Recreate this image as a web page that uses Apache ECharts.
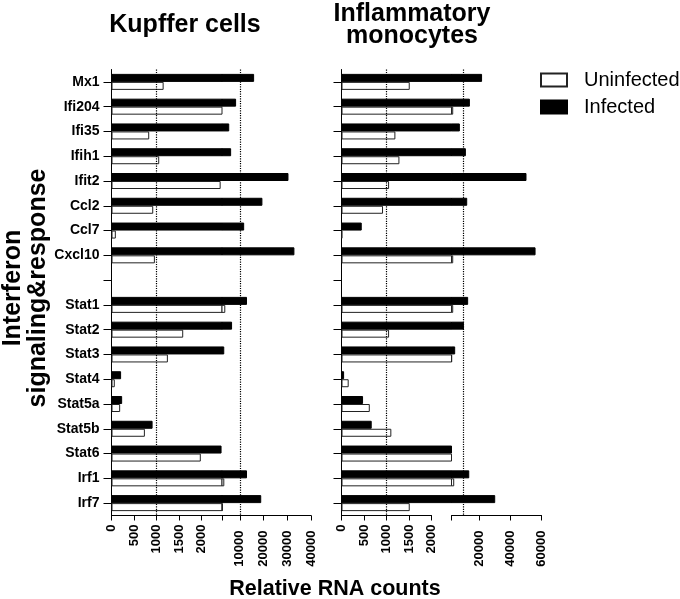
<!DOCTYPE html>
<html>
<head>
<meta charset="utf-8">
<script src="https://cdn.jsdelivr.net/npm/echarts@6/dist/echarts.min.js"></script>
<style>html,body{margin:0;padding:0;background:#fff;}#chart{width:680px;height:599px;}</style>
</head>
<body>
<div id="chart"></div>
<script>
// ---- data ----
const categories = ['Mx1','Ifi204','Ifi35','Ifih1','Ifit2','Ccl2','Ccl7','Cxcl10','','Stat1','Stat2','Stat3','Stat4','Stat5a','Stat5b','Stat6','Irf1','Irf7'];
const kupfferInfected   = [16000, 8400, 5500, 6300, 30500, 19500, 11800, 33000, '-', 13000, 6700, 3400, 213, 236, 911, 2440, 13000, 19000];
const kupfferUninfected = [1156, 2500, 836, 1058, 2420, 925, 96, 962, '-', 3840, 1590, 1250, 73, 192, 740, 1980, 3420, 2870];
const monoInfected   = [22000, 14200, 7800, 11650, 50400, 12500, 451, 56200, '-', 13100, 10400, 4800, 58, 480, 673, 2700, 13800, 30400];
const monoUninfected = [1520, 3540, 1200, 1290, 1060, 925, 15, 3540, '-', 3540, 1060, 2900, 160, 630, 1110, 2700, 4180, 1520];
const lowTicks = [0, 500, 1000, 1500, 2000];
const kupfferHighTicks = [10000, 20000, 30000, 40000];
const monoHighTicks = [20000, 40000, 60000];
const axisBreak = 2450;
const refLines = [1000, 10000];

const FONT = 'Liberation Sans, Arial, sans-serif';
const labelStyle = { fontFamily: FONT, fontWeight: 'bold', fontSize: 13, color: '#000' };
const gTop = 69.5, gHeight = 446;

function above(arr) { return arr.map(v => (v === '-' || v <= axisBreak) ? '-' : v); }

const grids = [
  { left: 111.5, width: 110.5 },   // 0 Kupffer low
  { left: 222, width: 89 },        // 1 Kupffer high
  { left: 341.5, width: 110 },     // 2 mono low (bars)
  { left: 341.5, width: 90 },      // 3 mono low (axis display)
  { left: 451.5, width: 90 }       // 4 mono high
].map(g => Object.assign(g, { top: gTop, height: gHeight, containLabel: false, outerBoundsMode: 'none' }));

function xAx(grid, min, max, ticks, labels, opts) {
  opts = opts || {};
  return {
    type: 'value', gridIndex: grid, min: min, max: max, show: opts.show !== false,
    splitLine: { show: false },
    axisLine: { show: true, onZero: false, lineStyle: { color: '#000', width: 1 } },
    axisTick: { show: true, length: 5, customValues: ticks, lineStyle: { color: '#000', width: 1 } },
    axisLabel: { show: true, rotate: 90, margin: opts.margin || 9, customValues: labels, formatter: v => String(v), ...labelStyle }
  };
}
const xAxes = [
  xAx(0, 0, axisBreak, lowTicks, lowTicks),
  xAx(1, axisBreak, 40000, [axisBreak].concat(kupfferHighTicks), kupfferHighTicks, { margin: 15 }),
  xAx(2, 0, axisBreak, [], [], { show: false }),
  xAx(3, 0, 2000, lowTicks, lowTicks),
  xAx(4, axisBreak, 60000, [axisBreak].concat(monoHighTicks), monoHighTicks, { margin: 15 })
];

function yAx(grid, mode) {
  return {
    type: 'category', gridIndex: grid, data: categories, inverse: true,
    show: mode !== 'hidden',
    axisLine: { show: true, lineStyle: { color: '#000', width: 1 } },
    axisTick: { show: true, alignWithLabel: true, interval: 0, length: 8, lineStyle: { color: '#000', width: 1 } },
    axisLabel: { show: mode === 'labels', interval: 0, margin: 12, ...labelStyle, fontSize: 14 },
    splitLine: { show: false }
  };
}
const yAxes = [yAx(0, 'labels'), yAx(1, 'hidden'), yAx(2, 'line'), yAx(3, 'hidden'), yAx(4, 'hidden')];

const infStyle = { color: '#000', borderColor: '#000', borderWidth: 1 };
const uninfStyle = { color: '#fff', borderColor: '#222', borderWidth: 1 };

function refLine(v) {
  return {
    symbol: ['none', 'none'], silent: true, animation: false, label: { show: false },
    lineStyle: { type: 'dotted', color: '#000', width: 1.2 },
    data: [{ xAxis: v }]
  };
}

function pair(grid, inf, uninf, line) {
  const base = { type: 'bar', xAxisIndex: grid, yAxisIndex: grid, barWidth: 8, barGap: '0%', clip: true, animation: false };
  const s2 = Object.assign({}, base, { name: 'Uninfected', data: uninf, itemStyle: uninfStyle });
  if (line !== undefined) s2.markLine = refLine(line);
  return [
    Object.assign({}, base, { name: 'Infected', data: inf, itemStyle: infStyle }),
    s2
  ];
}

const series = [].concat(
  pair(0, kupfferInfected, kupfferUninfected, refLines[0]),
  pair(1, above(kupfferInfected), above(kupfferUninfected), refLines[1]),
  pair(2, monoInfected, monoUninfected, refLines[0]),
  pair(4, above(monoInfected), above(monoUninfected), refLines[1])
);

const chart = echarts.init(document.getElementById('chart'), null, { renderer: 'canvas' });
chart.setOption({
  backgroundColor: '#fff',
  animation: false,
  title: [
    { text: 'Kupffer cells', left: 180, top: 8, textAlign: 'center', textStyle: { fontFamily: FONT, fontWeight: 'bold', fontSize: 25, color: '#000' } },
    { text: 'Inflammatory\nmonocytes', left: 407, top: -2, textAlign: 'center', textStyle: { fontFamily: FONT, fontWeight: 'bold', fontSize: 25, lineHeight: 22, color: '#000' } },
    { text: 'Relative RNA counts', left: 330, top: 573, textAlign: 'center', textStyle: { fontFamily: FONT, fontWeight: 'bold', fontSize: 21.5, color: '#000' } }
  ],
  legend: {
    data: ['Uninfected', 'Infected'], orient: 'vertical', left: 535, top: 65,
    itemWidth: 26, itemHeight: 13, itemGap: 7, icon: 'rect', selectedMode: false,
    textStyle: { fontFamily: FONT, fontSize: 20, lineHeight: 20, color: '#000', padding: [0, 0, 0, 12] }
  },
  graphic: [
    { type: 'text', x: 26, y: 288, rotation: Math.PI / 2,
      style: { text: 'Interferon\nsignaling&response', fontFamily: FONT, fontWeight: 'bold', fontSize: 25, lineHeight: 25, fill: '#000', align: 'center', verticalAlign: 'middle' } }
  ],
  grid: grids,
  xAxis: xAxes,
  yAxis: yAxes,
  series: series
});
</script>
</body>
</html>
